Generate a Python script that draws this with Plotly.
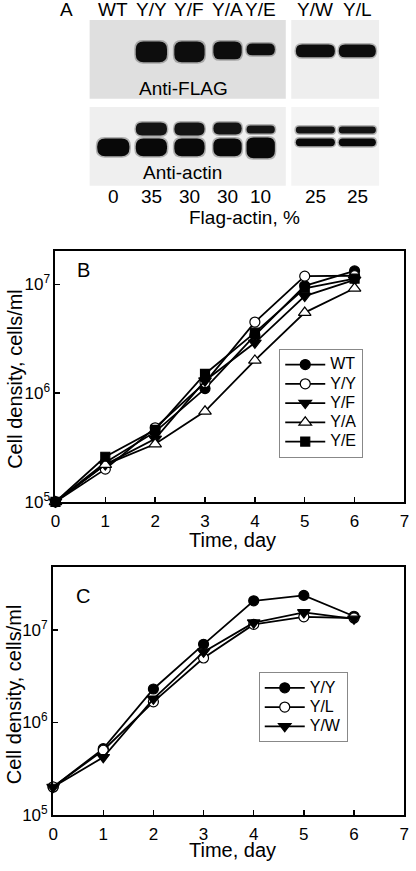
import plotly.graph_objects as go

# ---------------- data ----------------
days = [0, 1, 2, 3, 4, 5, 6]

# Panel B
b_wt = [1.0e5, 2.3e5, 4.4e5, 1.1e6, 3.4e6, 9.7e6, 1.33e7]
b_yy = [1.0e5, 2.0e5, 4.8e5, 1.25e6, 4.5e6, 1.19e7, 1.2e7]
b_yf = [1.0e5, 2.2e5, 3.8e5, 1.3e6, 2.9e6, 7.8e6, 1.1e7]
b_ya = [1.0e5, 2.2e5, 3.4e5, 6.8e5, 2.0e6, 5.5e6, 9.2e6]
b_ye = [1.0e5, 2.6e5, 4.6e5, 1.5e6, 3.6e6, 9.2e6, 1.13e7]

# Panel C
c_yy = [2.0e5, 5.2e5, 2.3e6, 7.0e6, 2.07e7, 2.37e7, 1.41e7]
c_yl = [2.0e5, 5.0e5, 1.67e6, 4.98e6, 1.15e7, 1.39e7, 1.35e7]
c_yw = [2.0e5, 4.2e5, 1.8e6, 5.8e6, 1.2e7, 1.55e7, 1.32e7]

x_ticks = [0, 1, 2, 3, 4, 5, 6, 7]
y_tickvals = [1e5, 1e6, 1e7]
y_ticktext = ["10<sup>5</sup>", "10<sup>6</sup>", "10<sup>7</sup>"]

# Panel A (blot)
lanes = ["WT", "Y/Y", "Y/F", "Y/A", "Y/E", "Y/W", "Y/L"]
flag_pct = ["0", "35", "30", "30", "10", "25", "25"]

# ---------------- layout helpers ----------------
W, H = 416, 871
FONT = "Liberation Sans, Arial, sans-serif"

def px_x(p):
    return p / W

def px_y(p):
    return 1 - p / H

lane_x = [111, 150, 189, 228, 262, 318, 361]
lane_w = [33, 32, 31, 29, 29, 40, 38]

fig = go.Figure()

def lname(s):
    return f"<span style='font-size:16px'>{s}</span>"

def add(x, y, name, symbol, fill, size, xa, ya, legend):
    fig.add_trace(go.Scatter(
        x=x, y=y, name=lname(name), mode="lines+markers",
        line=dict(color="black", width=1.8),
        marker=dict(symbol=symbol, size=size, color=fill,
                    line=dict(color="black", width=1.2)),
        xaxis=xa, yaxis=ya, legend=legend, cliponaxis=False))

add(days, b_wt, "WT", "circle", "black", 10, "x", "y", "legend")
add(days, b_yy, "Y/Y", "circle", "white", 10, "x", "y", "legend")
add(days, b_yf, "Y/F", "triangle-down", "black", 11, "x", "y", "legend")
add(days, b_ya, "Y/A", "triangle-up", "white", 11, "x", "y", "legend")
add(days, b_ye, "Y/E", "square", "black", 9, "x", "y", "legend")

add(days, c_yy, "Y/Y", "circle", "black", 10, "x2", "y2", "legend2")
add(days, c_yl, "Y/L", "circle", "white", 10, "x2", "y2", "legend2")
add(days, c_yw, "Y/W", "triangle-down", "black", 11, "x2", "y2", "legend2")

# invisible trace on blot axes
fig.add_trace(go.Scatter(x=[0], y=[0], mode="markers", marker=dict(opacity=0),
                         xaxis="x3", yaxis="y3", showlegend=False, hoverinfo="skip"))

axis_common = dict(showline=True, mirror=True, linewidth=2, linecolor="black",
                   ticks="inside", ticklen=5, tickwidth=1.5, tickcolor="black",
                   showgrid=False, zeroline=False, ticklabeloverflow="allow",
                   tickfont=dict(size=17, color="black", family=FONT))

legend_common = dict(xanchor="left", yanchor="top",
                     bordercolor="#888", borderwidth=1, bgcolor="white",
                     font=dict(size=12.5, family=FONT, color="black"),
                     tracegroupgap=0, itemwidth=40)

fig.update_layout(
    width=W, height=H, margin=dict(l=0, r=0, t=0, b=0),
    paper_bgcolor="white", plot_bgcolor="white",
    font=dict(family=FONT, color="black"),
    xaxis=dict(domain=[px_x(51.7), px_x(409.3)], range=[0, 7.0005], tickvals=x_ticks,
               anchor="y", ticklabelstandoff=3, **axis_common),
    yaxis=dict(domain=[px_y(507.7), px_y(254)], type="log", range=[5, 7.306],
               tickvals=y_tickvals, ticktext=y_ticktext, anchor="x", **axis_common),
    xaxis2=dict(domain=[px_x(49.3), px_x(409)], range=[0, 7.0005], tickvals=x_ticks,
                anchor="y2", ticklabelstandoff=3, **axis_common),
    yaxis2=dict(domain=[px_y(824.3), px_y(573.3)], type="log", range=[5, 7.685],
                tickvals=y_tickvals, ticktext=y_ticktext, anchor="x2", **axis_common),
    xaxis3=dict(domain=[0, 1], range=[0, W], visible=False, anchor="y3", fixedrange=True),
    yaxis3=dict(domain=[px_y(250), 1], range=[250, 0], visible=False, anchor="x3", fixedrange=True),
    legend=dict(x=px_x(281), y=px_y(353), **legend_common),
    legend2=dict(x=px_x(260), y=px_y(680), **legend_common),
    showlegend=True,
)

ann = []
def text(x, y, s, size=19, xref="paper", yref="paper", xanchor="center", yanchor="middle", angle=0):
    ann.append(dict(x=x, y=y, xref=xref, yref=yref, text=s, showarrow=False,
                    font=dict(size=size, family=FONT, color="black"),
                    xanchor=xanchor, yanchor=yanchor, textangle=angle))

# Panel B / C titles
text(px_x(80), px_y(273), "B", size=20)
text(px_x(80), px_y(603), "C", size=20)
text(px_x(233), px_y(546), "Time, day", size=20)
text(px_x(233), px_y(860), "Time, day", size=20)
text(px_x(9.5), px_y(383), "Cell density, cells/ml", size=20, angle=-90)
text(px_x(9.5), px_y(702), "Cell density, cells/ml", size=20, angle=-90)

# ---------------- Panel A blot ----------------
shapes = []
def rect(x0, y0, x1, y1, color):
    shapes.append(dict(type="rect", xref="x3", yref="y3", x0=x0, y0=y0, x1=x1, y1=y1,
                       fillcolor=color, line=dict(width=0), layer="below"))

def pill_path(x0, x1, y0, y1):
    h = y1 - y0
    r = min(h / 2, (x1 - x0) / 4)
    return (f"M {x0+r},{y0} L {x1-r},{y0} Q {x1},{y0} {x1},{y0+r} "
            f"L {x1},{y1-r} Q {x1},{y1} {x1-r},{y1} L {x0+r},{y1} "
            f"Q {x0},{y1} {x0},{y1-r} L {x0},{y0+r} Q {x0},{y0} {x0+r},{y0} Z")

def pill(cx, w, y0, y1, color="black"):
    x0, x1 = cx - w / 2, cx + w / 2
    # soft halo to mimic blot blur
    shapes.append(dict(type="path", xref="x3", yref="y3",
                       path=pill_path(x0 - 1.5, x1 + 1.5, y0 - 1.5, y1 + 1.5),
                       fillcolor="rgba(60,60,60,0.35)", line=dict(width=0), layer="above"))
    shapes.append(dict(type="path", xref="x3", yref="y3", path=pill_path(x0, x1, y0, y1),
                       fillcolor=color, line=dict(width=0), layer="above"))

rect(86.7, 20.3, 287.7, 100, "#dfdfdf")
rect(293.3, 20.3, 383.3, 100, "#eeeeee")
rect(86.7, 108.3, 287.7, 188, "#efefef")
rect(293.3, 108.3, 383.3, 188, "#f4f4f4")

# Anti-FLAG bands
flag_bands = [None, (42, 63), (42, 63), (42, 60), (44, 56), (45, 58), (45, 58)]
for i, b in enumerate(flag_bands):
    if b:
        pill(lane_x[i], lane_w[i], b[0], b[1], "#0d0d0d")
# Anti-actin upper (flag-actin) bands
up_bands = [None, (124, 137), (124, 137), (124, 136), (127, 135), (128, 135), (128, 135)]
for i, b in enumerate(up_bands):
    if b:
        pill(lane_x[i], lane_w[i], b[0], b[1], "#141414")
# Anti-actin lower (endogenous) bands
low_bands = [(140, 158), (140, 158), (140, 158), (140, 158), (139, 160), (140, 148), (140, 148)]
for i, b in enumerate(low_bands):
    pill(lane_x[i], lane_w[i], b[0], b[1], "#080808")

text(63, 10, "A", size=19, xref="x3", yref="y3")
for i, l in enumerate(lanes):
    text(lane_x[i], 10, l, size=19, xref="x3", yref="y3")
    text(lane_x[i], 199, flag_pct[i], size=19, xref="x3", yref="y3")
text(183, 90, "Anti-FLAG", size=19, xref="x3", yref="y3")
text(182, 175, "Anti-actin", size=19, xref="x3", yref="y3")
text(245, 220, "Flag-actin, %", size=19, xref="x3", yref="y3")

fig.update_layout(annotations=ann, shapes=shapes)

fig.write_html("out.html",
               config={"displayModeBar": False, "staticPlot": True},
               post_script="document.body.style.margin='0';document.body.style.overflow='hidden';")
